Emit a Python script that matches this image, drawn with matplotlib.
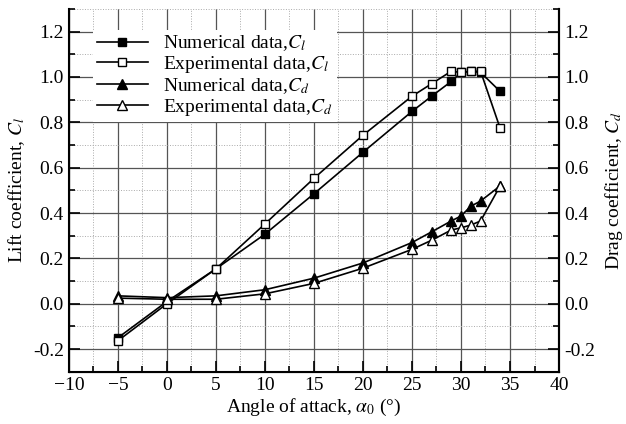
import matplotlib
matplotlib.use("Agg")
import matplotlib.pyplot as plt
from matplotlib.ticker import MultipleLocator, FormatStrFormatter

# data
alpha = [-5, 0, 5, 10, 15, 20, 25, 27, 29, 30, 31, 32, 34]
cl_num = [-0.15, 0.01, 0.154, 0.307, 0.485, 0.668, 0.848, 0.915, 0.98, 1.02, 1.025, 1.02, 0.936]
cl_exp = [-0.163, 0.0, 0.154, 0.352, 0.553, 0.743, 0.915, 0.97, 1.025, 1.02, 1.025, 1.025, 0.773]
cd_num = [0.035, 0.027, 0.035, 0.062, 0.113, 0.18, 0.27, 0.317, 0.365, 0.387, 0.43, 0.453, 0.52]
cd_exp = [0.025, 0.02, 0.02, 0.044, 0.09, 0.157, 0.24, 0.28, 0.325, 0.335, 0.347, 0.365, 0.52]

plt.rcParams['font.family'] = ['Liberation Serif', 'DejaVu Serif']
plt.rcParams['mathtext.fontset'] = 'stix'

fig = plt.figure(figsize=(6.26, 4.24), dpi=100)
ax = fig.add_axes([0.110, 0.123, 0.783, 0.856])

ms = 5.5
ax.plot(alpha, cl_num, '-s', color='black', lw=1.2, ms=ms, mfc='black', mew=1.0, label=r'Numerical data,$C_l$', zorder=3)
ax.plot(alpha, cl_exp, '-s', color='black', lw=1.2, ms=ms, mfc='white', mew=1.0, label=r'Experimental data,$C_l$', zorder=3)
ax.plot(alpha, cd_num, '-^', color='black', lw=1.2, ms=ms + 1, mfc='black', mew=1.0, label=r'Numerical data,$C_d$', zorder=3)
ax.plot(alpha, cd_exp, '-^', color='black', lw=1.2, ms=ms + 1, mfc='white', mew=1.0, label=r'Experimental data,$C_d$', zorder=3)

ax.set_xlim(-10, 40)
ax.set_ylim(-0.3, 1.3)
ax.xaxis.set_major_locator(MultipleLocator(5))
ax.xaxis.set_minor_locator(MultipleLocator(2.5))
ax.yaxis.set_major_locator(MultipleLocator(0.2))
ax.yaxis.set_minor_locator(MultipleLocator(0.1))
ax.yaxis.set_major_formatter(FormatStrFormatter('%.1f'))

ax.grid(which='major', color='#555555', lw=0.9, ls='-')
ax.grid(which='minor', color='#aaaaaa', lw=0.7, ls=':')
ax.set_axisbelow(True)

ax.tick_params(which='both', direction='in', labelsize=14, width=1.2, colors='black')
ax.tick_params(which='major', length=8)
ax.tick_params(which='minor', length=4)
ax.spines['top'].set_visible(False)
for s in ['left', 'bottom', 'right']:
    ax.spines[s].set_linewidth(1.5)

ax2 = ax.twinx()
ax2.set_ylim(ax.get_ylim())
ax2.yaxis.set_major_locator(MultipleLocator(0.2))
ax2.yaxis.set_minor_locator(MultipleLocator(0.1))
ax2.yaxis.set_major_formatter(FormatStrFormatter('%.1f'))
ax2.tick_params(which='both', direction='in', labelsize=14, width=1.2)
ax2.tick_params(which='major', length=8)
ax2.tick_params(which='minor', length=4)
ax2.spines['top'].set_visible(False)
ax2.spines['right'].set_linewidth(1.5)

ax.set_xlabel(r'Angle of attack, $\alpha_0$ (°)', fontsize=14, labelpad=2)
ax.set_ylabel(r'Lift coefficient, $C_l$', fontsize=14, labelpad=4)
ax2.set_ylabel(r'Drag coefficient, $C_d$', fontsize=14, labelpad=6)

leg = ax.legend(loc='upper left', bbox_to_anchor=(0.03, 0.97), fontsize=14, frameon=True,
                fancybox=False, edgecolor='none', framealpha=1, handlelength=2.6,
                labelspacing=0.05, borderpad=0.2, handletextpad=0.8)
leg.set_zorder(5)

plt.savefig('out.png', dpi=100)
